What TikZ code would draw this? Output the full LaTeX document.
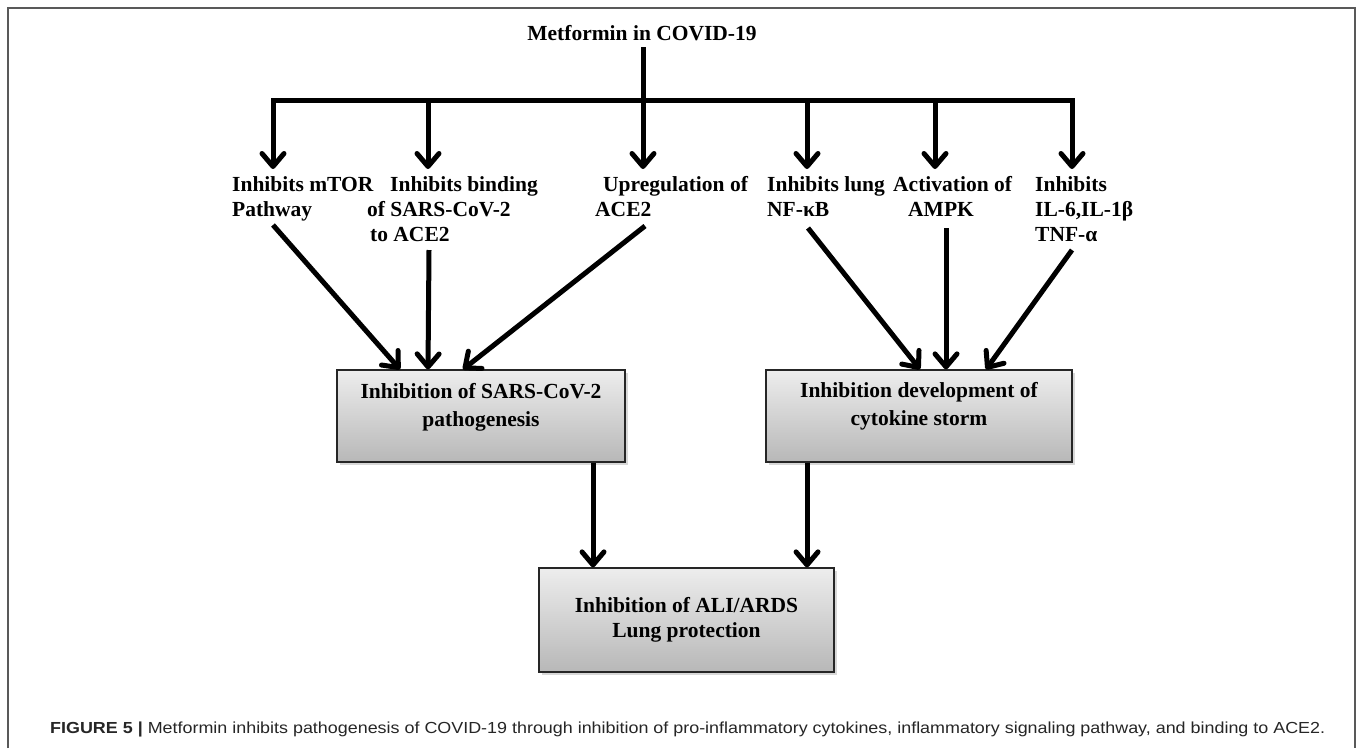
\documentclass[tikz,border=0pt]{standalone}
\usepackage{fontspec}
\usepackage{graphicx}
\setmainfont{Liberation Serif}
\newfontfamily\capfont{Liberation Sans}
\usetikzlibrary{arrows.meta,shadows}
\begin{document}
\begin{tikzpicture}[x=1pt,y=-1pt,
  frame/.style={draw=black!65, line width=1.5pt},
  ttl/.style={font=\fontsize{21.5}{25}\selectfont\bfseries, inner sep=0pt},
  lbl/.style={font=\fontsize{21.5}{25}\selectfont\bfseries, align=left, anchor=north west, inner sep=0pt},
  box/.style={draw=black!85, line width=1.2pt, top color=black!7, bottom color=black!28,
    drop shadow={opacity=0.3, shadow xshift=2.5pt, shadow yshift=-3pt},
    font=\fontsize{21.5}{28}\selectfont\bfseries, inner sep=0pt},
  bar/.style={line width=5pt, line cap=rect},
  arr/.style={line width=5pt, -{Straight Barb[length=13pt,width=22pt,round]}},
]
\useasboundingbox (0,0) rectangle (1357,748);
\fill[white] (0,0) rectangle (1357,748);
\draw[frame] (8,748) -- (8,8) -- (1355,8) -- (1355,748);

% title
\node[ttl] (title) at (642,33) {Metformin in COVID-19};

% labels
\node[lbl] (l1) at (232,176) {Inhibits mTOR\\Pathway};
\node[lbl] (l2) at (367,176) {\hspace*{23pt}Inhibits binding\\of SARS-CoV-2\\\hspace*{3pt}to ACE2};
\node[lbl] (l3) at (595,176) {\hspace*{8pt}Upregulation of\\ACE2};
\node[lbl] (l4) at (767,176) {Inhibits lung\\NF-κB};
\node[lbl] (l5) at (893,176) {Activation of\\\hspace*{15pt}AMPK};
\node[lbl] (l6) at (1035,176) {Inhibits\\IL-6,IL-1β\\TNF-α};

% boxes
\node[box, minimum width=288pt, minimum height=92pt] (b1) at (481,416)
  {\raisebox{9pt}[\height][\depth]{\begin{tabular}{@{}c@{}}Inhibition of SARS-CoV-2\\pathogenesis\end{tabular}}};
\node[box, minimum width=306pt, minimum height=92pt] (b2) at (919,416)
  {\raisebox{10pt}[\height][\depth]{\begin{tabular}{@{}c@{}}Inhibition development of\\cytokine storm\end{tabular}}};
\node[box, minimum width=295pt, minimum height=104pt, font=\fontsize{21.5}{25}\selectfont\bfseries] (b3) at (686.5,620)
  {\begin{tabular}{@{}c@{}}Inhibition of ALI/ARDS\\Lung protection\end{tabular}};

% coordinates
\coordinate (j1) at (273,100);
\coordinate (j2) at (428,100);
\coordinate (j4) at (807,100);
\coordinate (j5) at (935,100);
\coordinate (j6) at (1072,100);
\coordinate (c0) at (643,47);
\coordinate (tipy) at (0,169);

% top tree
\draw[bar] (j1) -- (j6);
\draw[arr] (c0) -- (c0 |- tipy);
\foreach \j in {j1,j2,j4,j5,j6} \draw[arr] (\j) -- (\j |- tipy);

% to left box
\coordinate (s1) at (273,225);
\coordinate (s2) at (429,250);
\coordinate (s3) at (645,226);
\coordinate (e1) at (400,0);
\coordinate (e2) at (428,0);
\coordinate (e3) at (463,0);
\draw[arr] (s1) -- (b1.north -| e1);
\draw[arr] (s2) -- (b1.north -| e2);
\draw[arr] (s3) -- (b1.north -| e3);

% to right box
\coordinate (s4) at (808,228);
\coordinate (s5) at (946,228);
\coordinate (s6) at (1072,250);
\coordinate (e4) at (920,0);
\coordinate (e5) at (946,0);
\coordinate (e6) at (986,0);
\draw[arr] (s4) -- (b2.north -| e4);
\draw[arr] (s5) -- (b2.north -| e5);
\draw[arr] (s6) -- (b2.north -| e6);

% to bottom box
\coordinate (xa) at (593,0);
\coordinate (xb) at (807,0);
\draw[arr] (b1.south -| xa) -- (b3.north -| xa);
\draw[arr] (b2.south -| xb) -- (b3.north -| xb);

% caption
\node[anchor=west, inner sep=0pt, text=black!85, font=\capfont\fontsize{16}{18}\selectfont] (cap) at (50,729)
  {\resizebox{1275pt}{\height}{\textbf{FIGURE 5 |} Metformin inhibits pathogenesis of COVID-19 through inhibition of pro-inflammatory cytokines, inflammatory signaling pathway, and binding to ACE2.}};
\end{tikzpicture}
\end{document}
